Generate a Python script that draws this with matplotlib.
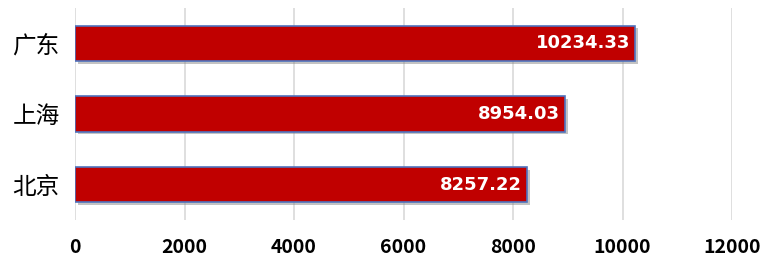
import matplotlib
matplotlib.use("Agg")
import matplotlib.pyplot as plt
import matplotlib.patheffects as pe

plt.rcParams['font.family'] = ['Noto Sans CJK SC', 'DejaVu Sans']

cities = ["北京", "上海", "广东"]
values = [8257.22, 8954.03, 10234.33]
xticks = [0, 2000, 4000, 6000, 8000, 10000, 12000]

fig = plt.figure(figsize=(7.63, 2.61), dpi=100)
ax = fig.add_axes([75/763, 41/261, 657/763, 212/261])

bars = ax.barh(range(len(cities)), values, height=0.5, color="#C00000",
               edgecolor="#4F73BE", linewidth=1.2, zorder=3)
for b in bars:
    b.set_path_effects([pe.SimplePatchShadow(offset=(2, -2), shadow_rgbFace="#888888", alpha=0.5),
                        pe.Normal()])

# value labels inside bar ends
for i, v in enumerate(values):
    ax.text(v - 95, i, f"{v:.2f}", ha="right", va="center", color="white",
            fontsize=13, fontweight="bold", family="DejaVu Sans", zorder=4)

ax.set_xlim(0, 12000)
ax.set_ylim(-0.5, 2.5)
ax.set_xticks(xticks)
ax.set_xticklabels([str(t) for t in xticks], fontsize=14, fontweight="bold")
ax.set_yticks(range(len(cities)))
ax.set_yticklabels(cities, fontsize=17)
ax.tick_params(length=0)
ax.tick_params(axis="y", pad=11)
ax.tick_params(axis="x", pad=13)
ax.grid(axis="x", color="#D9D9D9", linewidth=1.2, zorder=0)
for s in ax.spines.values():
    s.set_visible(False)

fig.savefig("out.png", dpi=100)
